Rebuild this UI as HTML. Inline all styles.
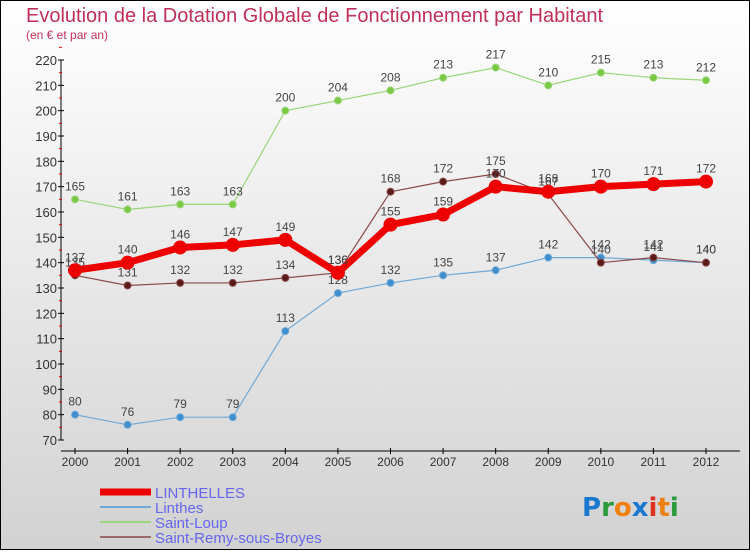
<!DOCTYPE html>
<html><head><meta charset="utf-8"><style>
html,body{margin:0;padding:0}
body{width:750px;height:550px;overflow:hidden;font-family:"Liberation Sans",sans-serif}
</style></head><body>
<svg id="c" width="750" height="550" xmlns="http://www.w3.org/2000/svg">
<defs><linearGradient id="bg" x1="0" y1="0" x2="0" y2="1"><stop offset="0" stop-color="#ffffff"/><stop offset="1" stop-color="#d2d2d2"/></linearGradient></defs>
<rect x="0.5" y="0.5" width="749" height="549" fill="url(#bg)" stroke="#000"/>
<text x="26" y="22" font-size="20" fill="#c0305a">Evolution de la Dotation Globale de Fonctionnement par Habitant</text>
<text x="26" y="39" font-size="12" fill="#c0305a">(en € et par an)</text>
<g id="axes"></g><g id="series"></g><g id="legend"></g>
<g font-size="26" font-weight="bold" font-family="DejaVu Sans, sans-serif">
<text x="582" y="516"><tspan fill="#1a78d0">P</tspan><tspan fill="#2a9a3a">r</tspan><tspan fill="#f08010">o</tspan><tspan fill="#1a78d0">x</tspan><tspan fill="#e03020">i</tspan><tspan fill="#f08010">t</tspan><tspan fill="#2a9a3a">i</tspan></text></g>
</svg>
<script>
const years=[2000,2001,2002,2003,2004,2005,2006,2007,2008,2009,2010,2011,2012];
const yTicks=[70,80,90,100,110,120,130,140,150,160,170,180,190,200,210,220];
const linthelles=[137,140,146,147,149,136,155,159,170,168,170,171,172];
const linthes=[80,76,79,79,113,128,132,135,137,142,142,141,140];
const saintLoup=[165,161,163,163,200,204,208,213,217,210,215,213,212];
const saintRemy=[135,131,132,132,134,136,168,172,175,167,140,142,140];
const NS="http://www.w3.org/2000/svg";
const X=i=>75+i*(706-75)/(years.length-1);
const Y=v=>440-(v-70)*(380/150);
function mk(t,a,p){const e=document.createElementNS(NS,t);for(const k in a)e.setAttribute(k,a[k]);p.appendChild(e);return e;}
const ax=document.getElementById('axes');
const yl=mk('line',{x1:61,y1:Y(220),x2:61,y2:440,stroke:'#000'},ax);


const xl=mk('line',{x1:61,y1:451,x2:740,y2:451,stroke:'#000'},ax);


yTicks.forEach(v=>{
 mk('line',{x1:58,x2:64,y1:Y(v),y2:Y(v),stroke:'#000'},ax);
 mk('line',{x1:59,x2:62,y1:Y(v+5),y2:Y(v+5),stroke:'#e00'},ax);
 const t=mk('text',{x:57,y:Y(v)+5,'text-anchor':'end','font-size':13,fill:'#333'},ax);t.textContent=v;
 
 
});
years.forEach((y,i)=>{
 mk('line',{x1:X(i),x2:X(i),y1:448,y2:454,stroke:'#000'},ax);
 const t=mk('text',{x:X(i),y:466,'text-anchor':'middle','font-size':12,fill:'#333'},ax);t.textContent=y;
 
 
});
const sg=document.getElementById('series');
function series(vals,col,dot,w,r,name){
 const g=mk('g',{},sg);
 
 
 mk('polyline',{points:vals.map((v,i)=>X(i)+','+Y(v)).join(' '),fill:'none',stroke:col,'stroke-width':w},g);
 vals.forEach((v,i)=>{
  const c=mk('circle',{cx:X(i),cy:Y(v),r:r,fill:dot,stroke:col,'stroke-width':1},g);
  
  
  const t=mk('text',{x:X(i),y:Y(v)-9,'text-anchor':'middle','font-size':12,fill:'#444'},g);t.textContent=v;
 });
}
series(saintLoup,'#9ad67a','#7ac943',1.2,3.5,'series-saint-loup');
series(linthes,'#6fa8d6','#3d8fd0',1.2,3.5,'series-linthes');
series(saintRemy,'#8b4a4a','#5a1a1a',1.2,3.5,'series-saint-remy');
series(linthelles,'#ee0000','#ee0000',7,6.5,'series-linthelles');
const lg=document.getElementById('legend');
[['LINTHELLES','#ee0000',7],['Linthes','#6fa8d6',2],['Saint-Loup','#9ad67a',2],['Saint-Remy-sous-Broyes','#9a6a6a',2]].forEach((d,i)=>{
 const yy=492+i*15;
 const g=mk('g',{},lg);
 
 
 mk('line',{x1:100,x2:151,y1:yy,y2:yy,stroke:d[1],'stroke-width':d[2]},g);
 const t=mk('text',{x:155,y:yy+6,'font-size':15,fill:'#6666ee'},g);t.textContent=d[0];
});
</script>
</body></html>
